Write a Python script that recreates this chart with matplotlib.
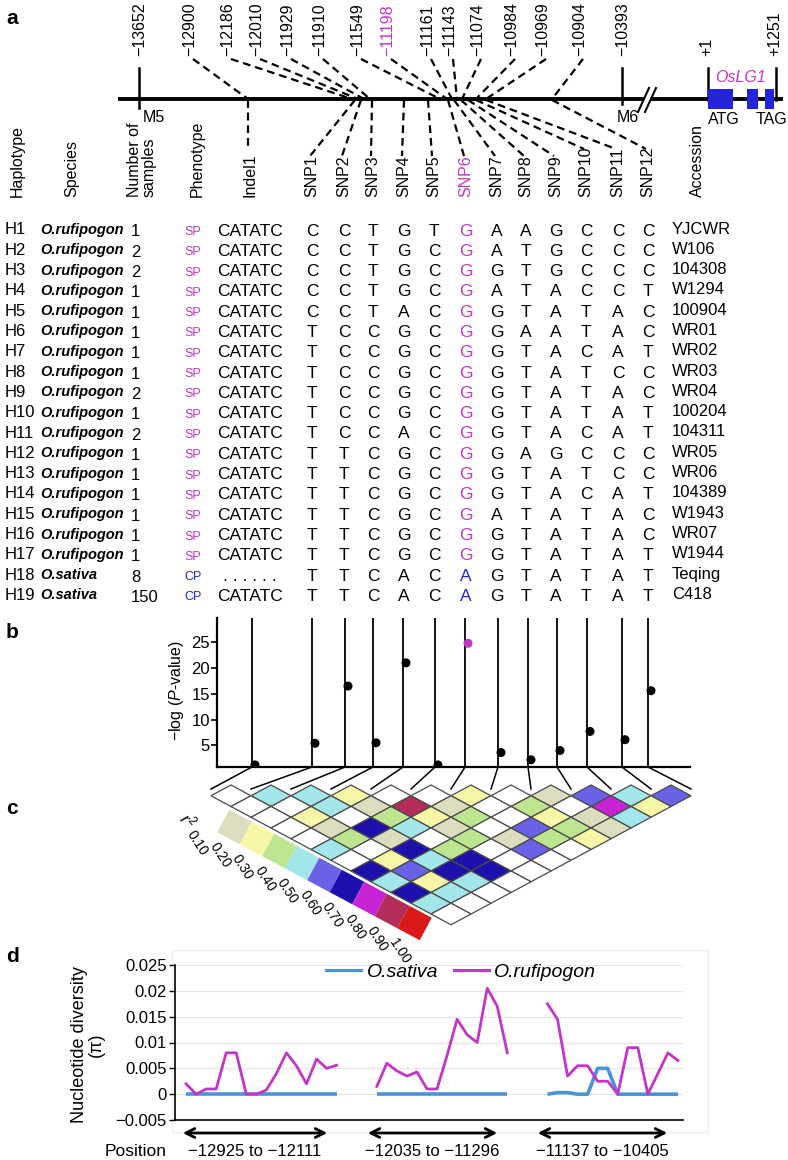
import numpy as np
import matplotlib
matplotlib.use('Agg')
import matplotlib.pyplot as plt
from matplotlib.patches import Polygon, Rectangle
from matplotlib.lines import Line2D

plt.rcParams['font.family'] = ['Liberation Sans', 'DejaVu Sans']
plt.rcParams['mathtext.fontset'] = 'custom'
plt.rcParams['mathtext.rm'] = 'Liberation Sans'
plt.rcParams['mathtext.it'] = 'Liberation Sans:italic'

# ---------------- data ----------------
pos_labels = ['−13652', '−12900', '−12186', '−12010', '−11929', '−11910', '−11549',
              '−11198', '−11161', '−11143', '−11074', '−10984', '−10969', '−10904',
              '−10393', '+1', '+1251']
haplotypes = ['H%d' % i for i in range(1, 20)]
species = ['O.rufipogon'] * 17 + ['O.sativa'] * 2
n_samples = [1, 2, 2, 1, 1, 1, 1, 1, 2, 1, 2, 1, 1, 1, 1, 1, 1, 8, 150]
phenotype = ['SP'] * 17 + ['CP'] * 2
indel1 = ['CATATC'] * 17 + ['. . . . . .', 'CATATC']
snps = ['CCTGTGAAGCCC', 'CCTGCGATGCCC', 'CCTGCGGTGCCC', 'CCTGCGATACCT',
        'CCTACGGTATAC', 'TCCGCGGAATAC', 'TCCGCGGTACAT', 'TCCGCGGTATCC',
        'TCCGCGGTATAC', 'TCCGCGGTATAT', 'TCCACGGTACAT', 'TTCGCGGAGCCC',
        'TTCGCGGTATCC', 'TTCGCGGTACAT', 'TTCGCGATATAC', 'TTCGCGGTATAC',
        'TTCGCGGTATAT', 'TTCACAGTATAT', 'TTCACAGTATAT']
accessions = ['YJCWR', 'W106', '104308', 'W1294', '100904', 'WR01', 'WR02', 'WR03',
              'WR04', '100204', '104311', 'WR05', 'WR06', '104389', 'W1943', 'WR07',
              'W1944', 'Teqing', 'C418']
markers = ['Indel1'] + ['SNP%d' % i for i in range(1, 13)]
neglogp = [1.2, 5.4, 16.5, 5.5, 21.0, 1.2, 24.8, 3.6, 2.2, 4.0, 7.7, 6.1, 15.6]

# LD r^2 (row = marker distance 1..12)
ld_rows = [
    [0.05, 0.45, 0.45, 0.25, 0.05, 0.05, 0.25, 0.05, 0.15, 0.55, 0.45, 0.55],
    [0.05, 0.05, 0.45, 0.15, 0.85, 0.15, 0.05, 0.35, 0.05, 0.75, 0.25],
    [0.05, 0.25, 0.05, 0.35, 0.25, 0.35, 0.05, 0.25, 0.15, 0.45],
    [0.05, 0.15, 0.65, 0.45, 0.15, 0.05, 0.55, 0.35, 0.15],
    [0.05, 0.35, 0.15, 0.05, 0.35, 0.15, 0.35, 0.25],
    [0.45, 0.05, 0.65, 0.35, 0.05, 0.55, 0.05],
    [0.05, 0.25, 0.45, 0.65, 0.05, 0.05],
    [0.65, 0.55, 0.65, 0.65, 0.05],
    [0.45, 0.25, 0.45, 0.05],
    [0.65, 0.45, 0.05],
    [0.45, 0.05],
    [0.05],
]
r2_ticks = ['0.10', '0.20', '0.30', '0.40', '0.50', '0.60', '0.70', '0.80', '0.90', '1.00']
r2_colors = ['#ffffff', '#dcdcbe', '#f6f6a6', '#bde48e', '#a2e6ea', '#6a62e6',
             '#1d10ad', '#c824d6', '#b42c5a', '#da1a1a']

seg_labels = ['−12925 to −12111', '−12035 to −11296', '−11137 to −10405']
ruf_seg1 = [0.002, 0.0, 0.001, 0.001, 0.008, 0.008, 0.0, 0.0, 0.0008, 0.004, 0.008,
            0.0055, 0.002, 0.0068, 0.005, 0.0056]
ruf_seg2 = [0.0015, 0.006, 0.0045, 0.0035, 0.0043, 0.001, 0.001, 0.0075, 0.0145,
            0.0115, 0.010, 0.0205, 0.017, 0.008]
ruf_seg3 = [0.0175, 0.0145, 0.0035, 0.0055, 0.0055, 0.0025, 0.0025, 0.0, 0.009,
            0.009, 0.0, 0.004, 0.008, 0.0065]
sat_seg1 = [0.0] * 16
sat_seg2 = [0.0] * 14
sat_seg3 = [0.0, 0.0003, 0.0003, 0.0, 0.0, 0.005, 0.005, 0.0, 0.0, 0.0, 0.0, 0.0, 0.0, 0.0]

MAG = '#c335c6'
BLU = '#2424d8'

W, H = 788, 1160
fig = plt.figure(figsize=(W / 100, H / 100), dpi=100)
ov = fig.add_axes([0, 0, 1, 1])
ov.set_xlim(0, W)
ov.set_ylim(H, 0)
ov.axis('off')
ov.patch.set_alpha(0)


def fbox(x0, y0, x1, y1):
    return [x0 / W, 1 - y1 / H, (x1 - x0) / W, (y1 - y0) / H]


# ---------------- panel a ----------------
for lab, y in zip(['a', 'b', 'c', 'd'], [18, 633, 808, 957]):
    ov.text(6, y, lab, fontsize=15, fontweight='bold', va='center', ha='left')

lab_x = [140, 190, 228, 257, 288, 320, 358, 388, 428, 450, 478, 512, 543, 580, 623, 707, 775]
for i, (lab, x) in enumerate(zip(pos_labels, lab_x)):
    ov.text(x, 56, lab, rotation=90, ha='center', va='bottom', fontsize=11.5,
            color=MAG if lab == '−11198' else 'black')

# main line
ov.plot([118, 783], [99, 99], color='black', lw=2.8, solid_capstyle='butt', zorder=3)
for x, y0, y1 in [(139, 68, 108), (622, 68, 104), (708, 68, 100), (776, 68, 100)]:
    ov.plot([x, x], [y0, y1], color='black', lw=1.8, zorder=3)
ov.text(143, 117, 'M5', fontsize=11.5, ha='left', va='center')
ov.text(617, 117, 'M6', fontsize=11.5, ha='left', va='center')
# break mark
ov.add_patch(Polygon([[639, 112], [649, 88], [655, 88], [645, 112]], closed=True,
                     facecolor='white', edgecolor='none', zorder=4))
ov.plot([638, 649], [112, 88], color='black', lw=1.5, zorder=5)
ov.plot([645, 656], [112, 88], color='black', lw=1.5, zorder=5)
# gene
for x0, x1 in [(708, 733), (747, 758), (765, 774)]:
    ov.add_patch(Rectangle((x0, 89), x1 - x0, 20, facecolor=BLU, edgecolor='none', zorder=6))
ov.text(741, 78, 'OsLG1', fontsize=11.5, style='italic', color=MAG, ha='center', va='center')
ov.text(724, 119, 'ATG', fontsize=11.5, ha='center', va='center')
ov.text(772, 119, 'TAG', fontsize=11.5, ha='center', va='center')

# dashed connectors (upper: label -> main line; lower: main line -> column)
up_from = lab_x[1:14]
up_to = [248, 352, 358, 364, 370, 440, 447, 452, 457, 462, 476, 486, 552]
for xf, xt in zip(up_from, up_to):
    ov.plot([xf + 3, xt], [59, 99], color='black', lw=1.6, ls=(0, (3.5, 2.2)), zorder=2)

col_x = [250, 312, 344, 373, 404, 434, 466, 497, 526, 556, 586, 618, 648]
low_from = [248, 355, 361, 372, 404, 428, 448, 454, 461, 468, 476, 486, 552]
low_end_y = [147] + [156] * 9 + [149, 149, 149]
for xf, xt, ye in zip(low_from, col_x, low_end_y):
    ov.plot([xf, xt - 2], [100, ye], color='black', lw=1.6, ls=(0, (3.5, 2.2)), zorder=2)

# column headers
hdr_y = 197
ov.text(17, hdr_y, 'Haplotype', rotation=90, ha='center', va='bottom', fontsize=11.5)
ov.text(72, hdr_y, 'Species', rotation=90, ha='center', va='bottom', fontsize=11.5)
ov.text(142, hdr_y, 'Number of\nsamples', rotation=90, ha='center', va='bottom',
        fontsize=11.5, multialignment='left', linespacing=1.0)
ov.text(197, hdr_y, 'Phenotype', rotation=90, ha='center', va='bottom', fontsize=11.5)
for name, x in zip(markers, col_x):
    ov.text(x, hdr_y, name, rotation=90, ha='center', va='bottom', fontsize=11.5,
            color=MAG if name == 'SNP6' else 'black')
ov.text(697, hdr_y, 'Accession', rotation=90, ha='center', va='bottom', fontsize=11.5)

# table
row_y0, row_dy = 230, 20.3
for k in range(19):
    y = row_y0 + k * row_dy
    ov.text(5, y, haplotypes[k], fontsize=12, ha='left', va='center')
    ov.text(40, y, species[k], fontsize=10.5, style='italic', fontweight='bold',
            ha='left', va='center')
    ov.text(131, y + 2, str(n_samples[k]), fontsize=12, ha='left', va='center')
    ov.text(193, y + 2, phenotype[k], fontsize=9, ha='center',
            va='center', color=MAG if phenotype[k] == 'SP' else BLU)
    ov.text(col_x[0], y + 1, indel1[k], fontsize=12.5, ha='center', va='center')
    for j, ch in enumerate(snps[k]):
        c = 'black'
        if j == 5:
            c = MAG if ch == 'G' else BLU
        ov.text(col_x[j + 1], y + 1, ch, fontsize=12.5, ha='center', va='center', color=c)
    ov.text(672, y - 1, accessions[k], fontsize=12, ha='left', va='center')

# ---------------- panel b ----------------
b_top, b_bot = 618, 767
bx = fig.add_axes(fbox(217, b_top, 700, b_bot))
bx.patch.set_alpha(0)
bx.set_xlim(217, 700)
y_lo, y_hi = 0.8, 29.7
bx.set_ylim(y_lo, y_hi)
line_x = [252, 312, 345, 373, 403, 435, 465, 498, 528, 557, 587, 622, 648]
bx.vlines(line_x, y_lo, y_hi, color='black', lw=1.3)
dot_c = ['black'] * 13
dot_c[6] = MAG
bx.scatter(np.array(line_x) + 3, neglogp, s=30, c=dot_c, zorder=5)
for s in ['top', 'right']:
    bx.spines[s].set_visible(False)
bx.spines['left'].set_linewidth(1.6)
bx.spines['bottom'].set_linewidth(1.6)
bx.spines['bottom'].set_bounds(217, 690)
bx.set_xticks([])
bx.set_yticks([5, 10, 15, 20, 25])
bx.tick_params(axis='y', labelsize=12, length=4, width=1.2, pad=1)
ov.text(177, 690, '−log ($P$-value)', rotation=90, ha='center', va='center', fontsize=11.5)

# connectors b -> c
tri_x0, tri_w, tri_top, tri_h = 211, 40, 785, 21.5
for m, x in enumerate(line_x):
    ov.plot([x, tri_x0 + tri_w * m], [b_bot, 789], color='black', lw=1.1)

# ---------------- panel c ----------------
bounds = np.linspace(0, 1, 11)


def r2_color(v):
    idx = int(np.clip(np.searchsorted(bounds, v, side='right') - 1, 0, 9))
    return r2_colors[idx]


for r, row in enumerate(ld_rows, start=1):
    for i, v in enumerate(row):
        cx = tri_x0 + tri_w * (i + r / 2)
        cy = tri_top + tri_h / 2 + (r - 1) * tri_h / 2
        poly = [[cx - tri_w / 2, cy], [cx, cy - tri_h / 2], [cx + tri_w / 2, cy],
                [cx, cy + tri_h / 2]]
        ov.add_patch(Polygon(poly, closed=True, facecolor=r2_color(v),
                             edgecolor='#4a4a4a', lw=0.9, zorder=3))

# r2 legend
ang = np.arctan2(12, 22.5)
u = np.array([np.cos(ang), np.sin(ang)])
v = np.array([-np.sin(ang), np.cos(ang)])
side = 25.5
for k, (col, lab) in enumerate(zip(r2_colors, r2_ticks)):
    c = np.array([212 + 22.5 * k, 815 + 12 * k])
    pts = [c - u * side / 2 - v * side / 2, c + u * side / 2 - v * side / 2,
           c + u * side / 2 + v * side / 2, c - u * side / 2 + v * side / 2]
    ov.add_patch(Polygon(pts, closed=True, facecolor=col, edgecolor='none', zorder=2))
    ov.text(c[0] - 22, c[1] + 17, lab, rotation=-57, rotation_mode='anchor',
            ha='left', va='center', fontsize=10)
ov.text(188, 820, '$r^2$', rotation=-50, ha='center', va='center', fontsize=12)

# ---------------- panel d ----------------
d_top, d_bot = 965, 1120
dx = fig.add_axes(fbox(175, d_top, 683, d_bot))
dx.patch.set_alpha(0)
x1 = np.arange(0, 16)
x2 = np.arange(19, 33)
x3 = np.arange(36, 50)
dx.set_xlim(-1.1, 49.5)
dx.set_ylim(-0.005, 0.025)
yt = [-0.005, 0, 0.005, 0.01, 0.015, 0.02, 0.025]
dx.set_yticks(yt)
dx.set_yticklabels(['−0.005', '0', '0.005', '0.01', '0.015', '0.02', '0.025'])
dx.grid(axis='y', color='#e4e4e4', lw=0.8)
dx.set_axisbelow(True)
SAT = '#4a93d8'
for xs, ys in [(x1, sat_seg1), (x2, sat_seg2), (x3, sat_seg3)]:
    dx.plot(xs, ys, color=SAT, lw=2.6, solid_capstyle='butt')
for xs, ys in [(x1, ruf_seg1), (x2, ruf_seg2), (x3, ruf_seg3)]:
    dx.plot(xs, ys, color=MAG, lw=2.0)
for s in ['top', 'right']:
    dx.spines[s].set_visible(False)
dx.spines['left'].set_linewidth(1.2)
dx.spines['bottom'].set_linewidth(1.2)
dx.set_xticks([])
dx.tick_params(axis='y', labelsize=12, length=4, width=1.0, pad=2)
handles = [Line2D([], [], color=SAT, lw=2.2), Line2D([], [], color=MAG, lw=2.2)]
dx.legend(handles, ['O.sativa', 'O.rufipogon'], loc='center',
          bbox_to_anchor=(0.563, 0.955), ncol=2, frameon=False,
          prop={'style': 'italic', 'size': 14}, handlelength=1.8,
          handletextpad=0.3, columnspacing=0.8)
ov.add_patch(Rectangle((172, 950), 536, 182, facecolor='none', edgecolor='#f0f0f0', lw=1))

ov.text(88, 1045, 'Nucleotide diversity\n(π)', rotation=90, ha='center', va='center',
        fontsize=13, linespacing=1.0)
for (xa, xb), lab in zip([(180, 330), (365, 500), (535, 670)], seg_labels):
    ov.annotate('', xy=(xa, 1133), xytext=(xb, 1133),
                arrowprops=dict(arrowstyle='<->', lw=2.0, color='black', mutation_scale=16))
    ov.text((xa + xb) / 2, 1151, lab, fontsize=12, ha='center', va='center')
ov.text(105, 1151, 'Position', fontsize=12.5, ha='left', va='center')

fig.savefig('out.png', dpi=100)
